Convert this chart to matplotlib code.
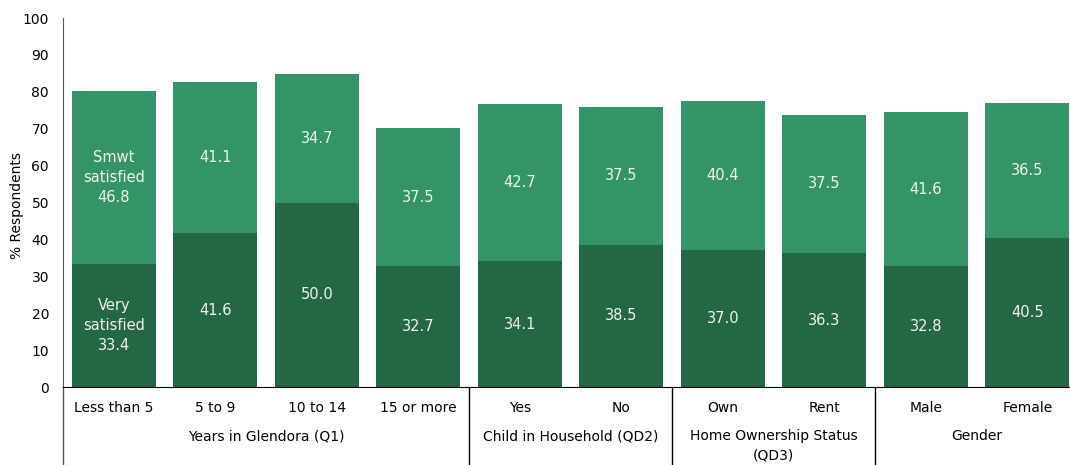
import numpy as np
import matplotlib.pyplot as plt

categories = ['Less than 5', '5 to 9', '10 to 14', '15 or more',
              'Yes', 'No', 'Own', 'Rent', 'Male', 'Female']
very_satisfied = [33.4, 41.6, 50.0, 32.7, 34.1, 38.5, 37.0, 36.3, 32.8, 40.5]
smwt_satisfied = [46.8, 41.1, 34.7, 37.5, 42.7, 37.5, 40.4, 37.5, 41.6, 36.5]

# (label, first index, last index)
groups = [('Years in Glendora (Q1)', 0, 3),
          ('Child in Household (QD2)', 4, 5),
          ('Home Ownership Status\n(QD3)', 6, 7),
          ('Gender', 8, 9)]

DARK = '#236745'
LIGHT = '#339466'
TXT = '#f2f2f2'

fig = plt.figure(figsize=(10.7, 4.65), dpi=100)
ax = fig.add_axes([63 / 1070, 1 - 387 / 465, 1015 / 1070, (387 - 18) / 465])

x = np.arange(len(categories))
w = 0.83
ax.bar(x, very_satisfied, width=w, color=DARK)
ax.bar(x, smwt_satisfied, width=w, bottom=very_satisfied, color=LIGHT)

for i, (v, s) in enumerate(zip(very_satisfied, smwt_satisfied)):
    lo = f'{v:.1f}'
    hi = f'{s:.1f}'
    if i == 0:
        lo = 'Very\nsatisfied\n' + lo
        hi = 'Smwt\nsatisfied\n' + hi
    ax.text(i, v / 2, lo, ha='center', va='center', color=TXT,
            fontsize=10.5, linespacing=1.4)
    ax.text(i, v + s / 2, hi, ha='center', va='center', color=TXT,
            fontsize=10.5, linespacing=1.4)

ax.set_xlim(-0.5, len(categories) - 0.5)
ax.set_ylim(0, 100)
ax.set_yticks(range(0, 101, 10))
ax.tick_params(axis='y', length=0, pad=10, labelsize=10)
ax.tick_params(axis='x', length=0, bottom=False, labelbottom=False)
for side in ['top', 'right']:
    ax.spines[side].set_visible(False)
ax.spines['left'].set_bounds(0, 100)
ax.spines['left'].set_color('#555555')
fig.text(17 / 1070, 1 - 205 / 465, '% Respondents', rotation=90,
         ha='center', va='center', fontsize=10)

# category labels and group labels below the axis
trans = ax.get_xaxis_transform()
for i, c in enumerate(categories):
    ax.text(i, -0.057, c, transform=trans, ha='center', va='center', fontsize=10)
for label, a, b in groups:
    ax.text((a + b) / 2, -0.115, label, transform=trans, ha='center', va='top',
            fontsize=10, linespacing=1.45)

# left axis extension and group dividers
ax.plot([-0.5, -0.5], [0, -0.23], transform=trans, color='#555555',
        lw=1, clip_on=False)
for _, a, b in groups[:-1]:
    ax.plot([b + 0.5, b + 0.5], [0, -0.23], transform=trans, color='black',
            lw=1, clip_on=False)

fig.savefig('out.png', dpi=100)
